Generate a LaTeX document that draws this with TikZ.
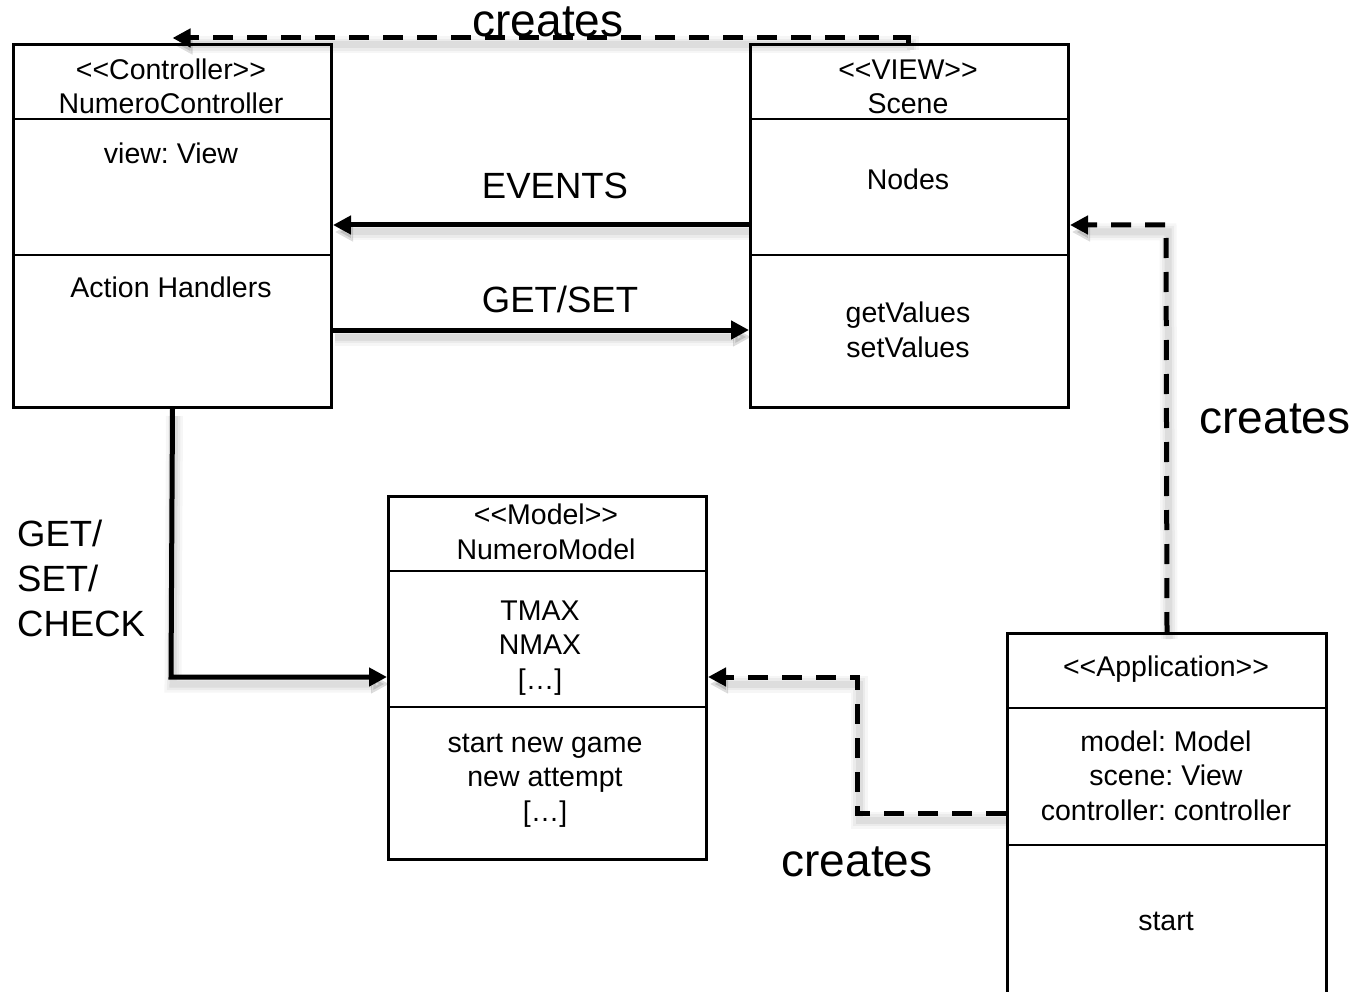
\documentclass[tikz,border=0pt]{standalone}
\usepackage{fontspec}
\setmainfont{Liberation Sans}
\usetikzlibrary{arrows.meta}
\frenchspacing
\begin{document}
\begin{tikzpicture}[x=1pt,y=-1pt,
  umlbox/.style={draw=black,line width=3pt,fill=white,anchor=north west,inner sep=0pt},
  divider/.style={draw=black,line width=1.5pt},
  boxtext/.style={align=center,anchor=base,inner sep=0pt,font=\fontsize{28.5}{34.5}\selectfont},
  bigtext/.style={anchor=base,inner sep=0pt,font=\fontsize{36.5}{45}\selectfont},
  createtext/.style={anchor=base,inner sep=0pt,font=\fontsize{46}{55}\selectfont},
  shadowed/.style={preaction={draw=black,opacity=0.035,line width=17pt,transform canvas={shift={(2pt,-7pt)}}},
                   preaction={draw=black,opacity=0.045,line width=12pt,transform canvas={shift={(2pt,-7pt)}}},
                   preaction={draw=black,opacity=0.06,line width=7pt,transform canvas={shift={(2pt,-7pt)}}}},
  link/.style={draw=black,line width=5pt,-{Triangle[length=18pt,width=18pt]},shadowed},
  dlink/.style={link,dash pattern=on 20pt off 14pt}
]
\clip (0,0) rectangle (1370,992);
\fill[white] (0,0) rectangle (1370,992);

% boxes
\node[umlbox,minimum width=318pt,minimum height=363pt] (ctrl) at (12,43) {};
\node[umlbox,minimum width=318pt,minimum height=363pt] (view) at (749,43) {};
\node[umlbox,minimum width=318pt,minimum height=363pt] (model) at (387,495) {};
\node[umlbox,minimum width=319pt,minimum height=420pt] (app) at (1006,632) {};

% dividers
\draw[divider] (ctrl.west |- 0,119) -- (ctrl.east |- 0,119);
\draw[divider] (ctrl.west |- 0,255) -- (ctrl.east |- 0,255);
\draw[divider] (view.west |- 0,119) -- (view.east |- 0,119);
\draw[divider] (view.west |- 0,255) -- (view.east |- 0,255);
\draw[divider] (model.west |- 0,571) -- (model.east |- 0,571);
\draw[divider] (model.west |- 0,707) -- (model.east |- 0,707);
\draw[divider] (app.west |- 0,708) -- (app.east |- 0,708);
\draw[divider] (app.west |- 0,845) -- (app.east |- 0,845);

% box texts (anchor base = baseline of last line)
\node[boxtext] (c1) at (171,114) {<{}<Controller>{}>\\NumeroController};
\node[boxtext] (c2) at (171,164) {view: View};
\node[boxtext] (c3) at (171,298) {Action Handlers};
\node[boxtext] (v1) at (908,114) {<{}<VIEW>{}>\\Scene};
\node[boxtext] (v2) at (908,190) {Nodes};
\node[boxtext] (v3) at (908,357) {getValues\\setValues};
\node[boxtext] (m1) at (546,559) {<{}<Model>{}>\\NumeroModel};
\node[boxtext] (m2) at (540,689) {TMAX\\NMAX\\{}[…]};
\node[boxtext] (m3) at (545,821) {start new game\\new attempt\\{}[…]};
\node[boxtext] (a1) at (1166,676) {<{}<Application>{}>};
\node[boxtext] (a2) at (1166,820) {model: Model\\scene: View\\controller: controller};
\node[boxtext] (a3) at (1166,930) {start};

% connectors
\draw[link] (view.west |- 0,225) -- (ctrl.east |- 0,225);
\draw[link] (ctrl.east |- 0,330) -- (view.west |- 0,330);
\draw[link] (ctrl.south) -- (171,677) -- (model.west |- 0,677);
\draw[dlink] (908,43) -- (908,38) -- (ctrl.north |- 0,38);
\draw[dlink] (app.north) -- (1166,225) -- (view.east |- 0,225);
\draw[dlink] (app.west |- 0,813) -- (857,813) -- (857,677) -- (model.east |- 0,677);

% labels
\node[bigtext] (lev) at (555,199) {EVENTS};
\node[bigtext] (lgs) at (560,312) {GET/SET};
\node[bigtext,anchor=base west] (lg1) at (17,546) {GET/};
\node[bigtext,anchor=base west] (lg2) at (17,591) {SET/};
\node[bigtext,anchor=base west] (lg3) at (17,636) {CHECK};
\node[createtext] (cr1) at (548,37) {creates};
\node[createtext] (cr2) at (1275,433) {creates};
\node[createtext] (cr3) at (857,876) {creates};
\end{tikzpicture}
\end{document}
